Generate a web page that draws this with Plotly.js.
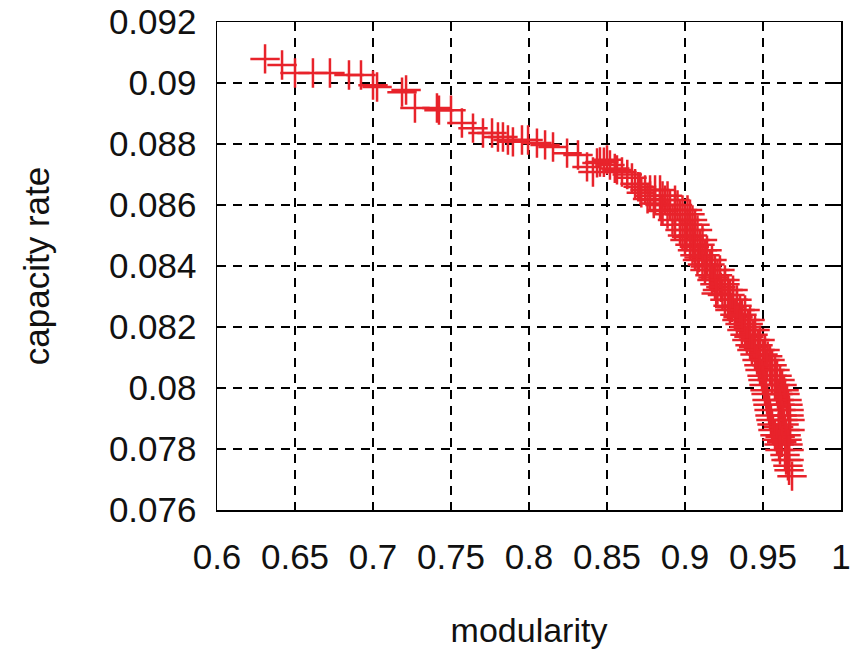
<!DOCTYPE html>
<html>
<head>
<meta charset="utf-8">
<script src="https://cdn.plot.ly/plotly-3.0.1.min.js"></script>
<style>html,body{margin:0;padding:0;background:#fff;}#chart{width:855px;height:653px;}</style>
</head>
<body>
<div id="chart"></div>
<script>
// modularity (x) and capacity rate (y)
var modularity = [
  0.6308, 0.6417, 0.6500, 0.6615, 0.6724, 0.6846, 0.6923, 0.7000, 0.7026, 0.7186,
  0.7212, 0.7269, 0.7410, 0.7423, 0.7500, 0.7570, 0.7641, 0.7705, 0.7763, 0.7801,
  0.7833, 0.7865, 0.7897, 0.7955, 0.7994, 0.8051, 0.8103, 0.8154, 0.8244, 0.8314,
  0.8372, 0.8410, 0.8436, 0.8455, 0.8500, 0.8519, 0.8564, 0.8596, 0.8660, 0.8712,
  0.8776, 0.8630, 0.8680, 0.8550, 0.8480,
  0.8744, 0.8808, 0.8840, 0.8700,
  0.8776, 0.8856, 0.8888, 0.8720,
  0.8808, 0.8872, 0.8936, 0.8760,
  0.8840, 0.8904, 0.8952, 0.8800,
  0.8856, 0.8936, 0.8984, 0.9016,
  0.8888, 0.8968, 0.9032, 0.8850,
  0.8920, 0.9000, 0.9048,
  0.8936, 0.9016, 0.9064,
  0.8968, 0.9032, 0.9080,
  0.8984, 0.9048, 0.9010,
  0.9000, 0.9064, 0.9112,
  0.9032, 0.9096, 0.9060,
  0.9048, 0.9112, 0.9141,
  0.9064, 0.9128, 0.9090,
  0.9080, 0.9141, 0.9173,
  0.9112, 0.9160, 0.9130,
  0.9128, 0.9192, 0.9224,
  0.9160, 0.9208, 0.9180,
  0.9173, 0.9224, 0.9256,
  0.9192, 0.9256, 0.9230,
  0.9208, 0.9276, 0.9308,
  0.9240, 0.9288, 0.9200,
  0.9256, 0.9308, 0.9333,
  0.9276, 0.9333, 0.9300,
  0.9288, 0.9353, 0.9385,
  0.9320, 0.9365, 0.9340,
  0.9333, 0.9385, 0.9417,
  0.9353, 0.9405, 0.9380,
  0.9365, 0.9417, 0.9449,
  0.9385, 0.9436, 0.9410,
  0.9397, 0.9449, 0.9481,
  0.9417, 0.9468, 0.9440,
  0.9429, 0.9481, 0.9513,
  0.9449, 0.9500, 0.9530,
  0.9462, 0.9513, 0.9545,
  0.9474, 0.9526, 0.9558,
  0.9481, 0.9545, 0.9577,
  0.9494, 0.9558, 0.9590,
  0.9500, 0.9558, 0.9609,
  0.9507, 0.9577, 0.9622,
  0.9513, 0.9590, 0.9635,
  0.9520, 0.9596, 0.9641,
  0.9526, 0.9603, 0.9654,
  0.9532, 0.9609, 0.9660,
  0.9539, 0.9615, 0.9667,
  0.9545, 0.9622, 0.9667,
  0.9551, 0.9628, 0.9673,
  0.9558, 0.9635, 0.9600,
  0.9564, 0.9641, 0.9673,
  0.9577, 0.9648, 0.9610,
  0.9590, 0.9654, 0.9620,
  0.9603, 0.9660,
  0.9609, 0.9667,
  0.9641,
  0.9648, 0.9667,
  0.9660,
  0.9667,
  0.9686
];
var capacityRate = [
  0.09079, 0.09059, 0.09033, 0.09033, 0.09033, 0.09026, 0.09026, 0.08993, 0.08987, 0.08970,
  0.08977, 0.08918, 0.08918, 0.08911, 0.08911, 0.08869, 0.08852, 0.08836, 0.08836, 0.08823,
  0.08823, 0.08813, 0.08807, 0.08813, 0.08813, 0.08803, 0.08797, 0.08790, 0.08770, 0.08764,
  0.08725, 0.08708, 0.08738, 0.08741, 0.08748, 0.08731, 0.08715, 0.08708, 0.08689, 0.08659,
  0.08649, 0.08700, 0.08670, 0.08720, 0.08740,
  0.08649, 0.08649, 0.08649, 0.08660,
  0.08630, 0.08630, 0.08630, 0.08640,
  0.08616, 0.08616, 0.08616, 0.08620,
  0.08600, 0.08600, 0.08600, 0.08605,
  0.08584, 0.08584, 0.08584, 0.08584,
  0.08570, 0.08570, 0.08570, 0.08580,
  0.08551, 0.08551, 0.08551,
  0.08535, 0.08535, 0.08535,
  0.08518, 0.08518, 0.08518,
  0.08500, 0.08500, 0.08495,
  0.08485, 0.08485, 0.08485,
  0.08470, 0.08470, 0.08462,
  0.08452, 0.08452, 0.08452,
  0.08435, 0.08435, 0.08428,
  0.08420, 0.08420, 0.08420,
  0.08405, 0.08405, 0.08398,
  0.08387, 0.08387, 0.08387,
  0.08370, 0.08370, 0.08362,
  0.08354, 0.08354, 0.08354,
  0.08340, 0.08340, 0.08330,
  0.08321, 0.08321, 0.08321,
  0.08305, 0.08305, 0.08310,
  0.08289, 0.08289, 0.08289,
  0.08270, 0.08270, 0.08265,
  0.08256, 0.08256, 0.08256,
  0.08240, 0.08240, 0.08232,
  0.08223, 0.08223, 0.08223,
  0.08210, 0.08210, 0.08200,
  0.08190, 0.08190, 0.08190,
  0.08175, 0.08175, 0.08168,
  0.08157, 0.08157, 0.08157,
  0.08140, 0.08140, 0.08134,
  0.08125, 0.08125, 0.08125,
  0.08110, 0.08110, 0.08104,
  0.08092, 0.08092, 0.08092,
  0.08075, 0.08075, 0.08075,
  0.08059, 0.08059, 0.08059,
  0.08040, 0.08040, 0.08040,
  0.08026, 0.08026, 0.08026,
  0.08010, 0.08010, 0.08010,
  0.07993, 0.07993, 0.07993,
  0.07980, 0.07980, 0.07980,
  0.07961, 0.07961, 0.07961,
  0.07945, 0.07945, 0.07945,
  0.07928, 0.07928, 0.07928,
  0.07910, 0.07910, 0.07910,
  0.07895, 0.07895, 0.07895,
  0.07880, 0.07880, 0.07872,
  0.07862, 0.07862, 0.07862,
  0.07845, 0.07845, 0.07840,
  0.07830, 0.07830, 0.07822,
  0.07815, 0.07815,
  0.07797, 0.07797,
  0.07780,
  0.07764, 0.07764,
  0.07745,
  0.07730,
  0.07711
];
var xTicks = [0.6, 0.65, 0.7, 0.75, 0.8, 0.85, 0.9, 0.95, 1];
var xTickText = ['0.6', '0.65', '0.7', '0.75', '0.8', '0.85', '0.9', '0.95', '1'];
var yTicks = [0.076, 0.078, 0.08, 0.082, 0.084, 0.086, 0.088, 0.09, 0.092];
var yTickText = ['0.076', '0.078', '0.08', '0.082', '0.084', '0.086', '0.088', '0.09', '0.092'];

var trace = {
  x: modularity,
  y: capacityRate,
  type: 'scatter',
  mode: 'markers',
  marker: {
    symbol: 'cross-thin-open',
    size: 21,
    color: '#e8232b',
    line: {color: '#e8232b', width: 2.5}
  },
  hoverinfo: 'x+y'
};

var axisCommon = {
  showline: true,
  linecolor: '#000',
  linewidth: 1.5,
  mirror: 'ticks',
  ticks: 'inside',
  ticklen: 8,
  tickwidth: 1.5,
  tickcolor: '#000',
  showgrid: true,
  gridcolor: '#000',
  gridwidth: 2,
  griddash: '9px,7px',
  zeroline: false,
  tickfont: {family: 'Liberation Sans, Arial, sans-serif', size: 35, color: '#111'}
};

var layout = {
  width: 855,
  height: 653,
  margin: {l: 217, r: 14, t: 22, b: 143},
  paper_bgcolor: '#fff',
  plot_bgcolor: '#fff',
  showlegend: false,
  xaxis: Object.assign({}, axisCommon, {
    range: [0.6, 1],
    tickvals: xTicks,
    ticktext: xTickText,
    ticklabelstandoff: 15,
    title: {text: 'modularity', standoff: 43,
      font: {family: 'Liberation Sans, Arial, sans-serif', size: 34, color: '#111'}}
  }),
  yaxis: Object.assign({}, axisCommon, {
    range: [0.076, 0.092],
    tickvals: yTicks,
    ticktext: yTickText,
    ticklabelstandoff: 12,
    title: {text: 'capacity rate', standoff: 48,
      font: {family: 'Liberation Sans, Arial, sans-serif', size: 35, color: '#111'}}
  })
};

Plotly.newPlot('chart', [trace], layout, {displayModeBar: false, staticPlot: true});
</script>
</body>
</html>
